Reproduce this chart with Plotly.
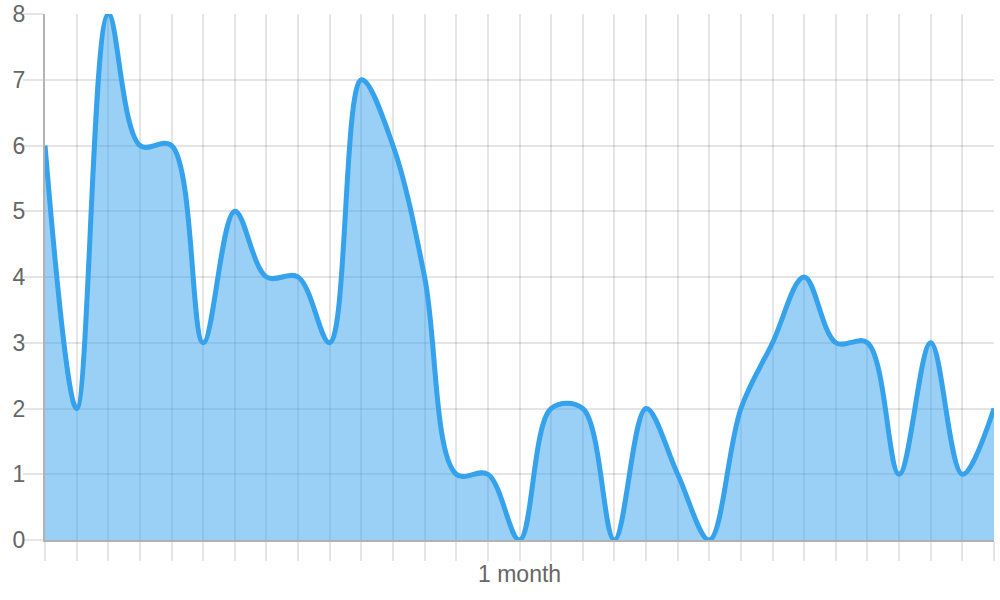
import plotly.graph_objects as go

days = list(range(1, 32))
values = [6, 2, 8, 6, 6, 3, 5, 4, 4, 3, 7, 6, 4, 1, 1, 0, 2, 2, 0, 2, 1, 0, 2, 3, 4, 3, 3, 1, 3, 1, 2]
y_ticks = [0, 1, 2, 3, 4, 5, 6, 7, 8]
x_label = "1 month"

grid = "rgba(0,0,0,0.1)"
axis = "rgba(0,0,0,0.3)"
font = dict(family="Liberation Sans, Arial, sans-serif", size=23, color="#666666")

fig = go.Figure()
fig.add_trace(go.Scatter(
    x=days, y=values, mode="lines",
    line=dict(color="#36A2EB", width=5, shape="spline", smoothing=1.0),
    fill="tozeroy", fillcolor="rgba(54,162,235,0.5)",
    hoverinfo="skip",
))
# label-only overlay axis (keeps labels close to the tick marks)
fig.add_trace(go.Scatter(x=[], y=[], yaxis="y2", showlegend=False, hoverinfo="skip"))

fig.update_layout(
    width=1000, height=600,
    margin=dict(l=45, r=6, t=14, b=60),
    paper_bgcolor="white", plot_bgcolor="white",
    showlegend=False, font=font,
    xaxis=dict(
        range=[1, 31], tickvals=days, showticklabels=False, automargin=False,
        showgrid=True, gridcolor=grid, gridwidth=2,
        ticks="outside", ticklen=19, tickcolor=grid, tickwidth=2,
        showline=True, linecolor=axis, linewidth=2,
        zeroline=False,
    ),
    yaxis=dict(
        range=[0, 8], tickvals=y_ticks, automargin=False, showticklabels=False,
        showgrid=True, gridcolor=grid, gridwidth=2,
        ticks="outside", ticklen=20, tickcolor=grid, tickwidth=2,
        showline=True, linecolor=axis, linewidth=2,
        zeroline=False,
    ),
    yaxis2=dict(
        range=[0, 8], tickvals=y_ticks, automargin=False, overlaying="y",
        side="left", anchor="x", showgrid=False, showline=False, zeroline=False,
        ticks="outside", ticklen=14, tickcolor="rgba(0,0,0,0)",
        tickfont=font,
    ),
    annotations=[dict(
        text=x_label, x=0.5, xref="paper", y=0, yref="paper",
        yanchor="middle", xanchor="center", yshift=-34,
        showarrow=False, font=font,
    )],
)

fig.write_html(
    "out.html",
    config={"displayModeBar": False},
    post_script="document.body.style.margin='0';document.body.style.overflow='hidden';",
)
